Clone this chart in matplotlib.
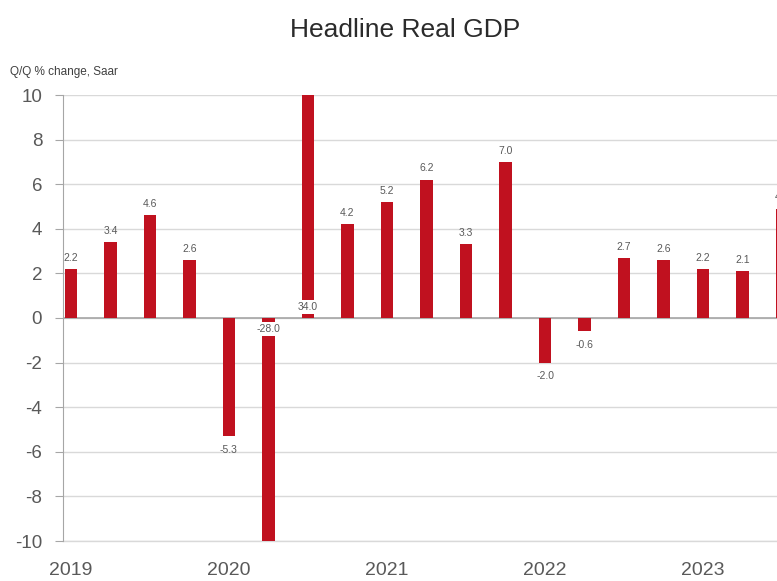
import matplotlib
matplotlib.use("Agg")
import matplotlib.pyplot as plt
import numpy as np

plt.rcParams['font.family'] = ['Liberation Sans', 'DejaVu Sans']

quarters = ["2019Q1", "2019Q2", "2019Q3", "2019Q4",
            "2020Q1", "2020Q2", "2020Q3", "2020Q4",
            "2021Q1", "2021Q2", "2021Q3", "2021Q4",
            "2022Q1", "2022Q2", "2022Q3", "2022Q4",
            "2023Q1", "2023Q2", "2023Q3"]
gdp = [2.2, 3.4, 4.6, 2.6,
       -5.3, -28.0, 34.0, 4.2,
       5.2, 6.2, 3.3, 7.0,
       -2.0, -0.6, 2.7, 2.6,
       2.2, 2.1, 4.9]
year_labels = ["2019", "2020", "2021", "2022", "2023"]
year_positions = [0, 4, 8, 12, 16]

bar_color = "#C0111F"
text_gray = "#595959"
grid_gray = "#D9D9D9"

fig = plt.figure(figsize=(7.77, 5.81), dpi=100)
ax = fig.add_axes([63/777, 1 - 541/581, 1 - 63/777, (541 - 95)/581])

x = np.arange(len(gdp))
ymin, ymax = -10, 10
ax.bar(x, gdp, width=0.31, color=bar_color, zorder=2)
ax.set_ylim(ymin, ymax)
ax.set_xlim(-0.2, 17.87)

ax.set_yticks(np.arange(-10, 11, 2))
ax.set_yticklabels([str(v) for v in range(-10, 11, 2)])
ax.yaxis.grid(True, color=grid_gray, linewidth=1.0, zorder=0)
ax.set_axisbelow(True)
ax.axhline(ymin, color=grid_gray, linewidth=1.0, zorder=0, clip_on=False)
ax.axhline(0, color="#A6A6A6", linewidth=1.2, zorder=1)

ax.set_xticks(year_positions)
ax.set_xticklabels(year_labels)

for s in ["top", "right", "bottom"]:
    ax.spines[s].set_visible(False)
ax.spines["left"].set_color("#A6A6A6")
ax.tick_params(axis="y", colors="#A6A6A6", labelcolor=text_gray, labelsize=13.5,
               length=6, pad=9)
ax.tick_params(axis="x", length=0, labelcolor=text_gray, labelsize=14, pad=15)

for xi, v in zip(x, gdp):
    lab = f"{v:.1f}"
    if v > ymax or v < ymin:
        yy = 0.5 if v > 0 else -0.5
        ax.text(xi, yy, lab, ha="center", va="center", fontsize=7.5, color=text_gray,
                zorder=3, clip_on=False,
                bbox=dict(facecolor="white", edgecolor="none", pad=1.5))
    elif v >= 0:
        ax.annotate(lab, (xi, v), xytext=(0, 4.5), textcoords="offset points",
                    ha="center", va="bottom", fontsize=7.5, color=text_gray,
                    annotation_clip=False)
    else:
        ax.annotate(lab, (xi, v), xytext=(0, -6), textcoords="offset points",
                    ha="center", va="top", fontsize=7.5, color=text_gray)

fig.text(405/777, 1 - 30/581, "Headline Real GDP", ha="center", va="center",
         fontsize=19, color="#2B2B2B")
fig.text(10/777, 1 - 72/581, "Q/Q % change, Saar", ha="left", va="center",
         fontsize=8.5, color="#404040")

fig.savefig("out.png", dpi=100)
